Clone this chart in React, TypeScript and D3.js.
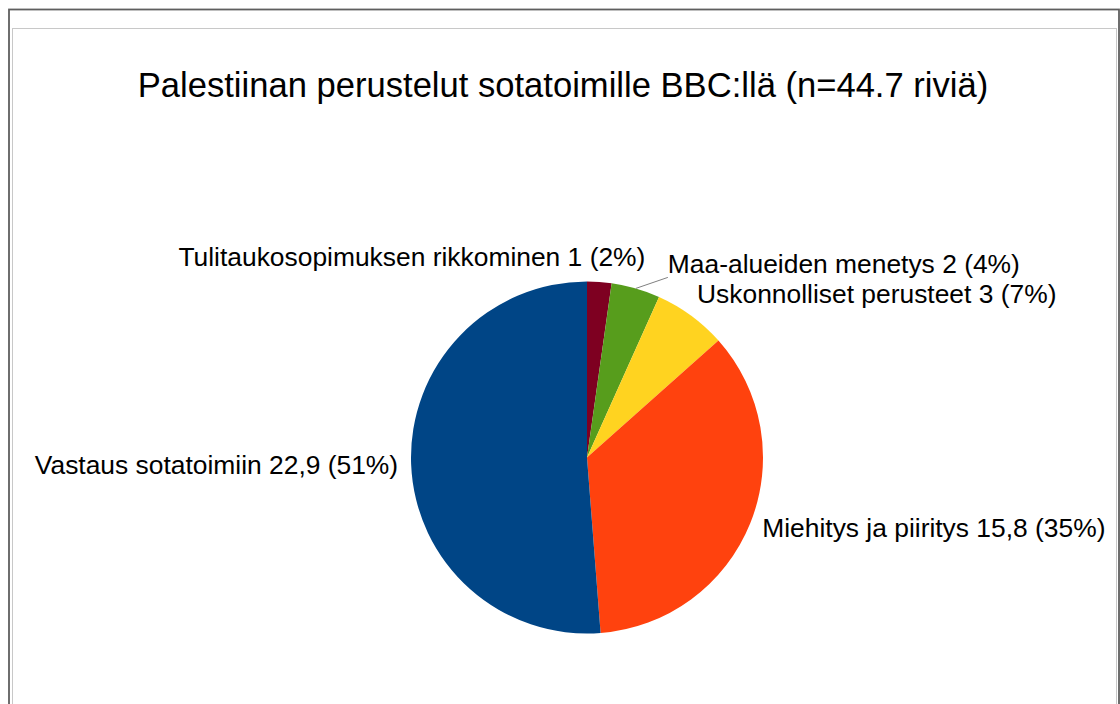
import React, { useEffect, useRef } from "react";
import * as d3 from "d3";

// Tiedot
const categories = [
  "Tulitaukosopimuksen rikkominen",
  "Maa-alueiden menetys",
  "Uskonnolliset perusteet",
  "Miehitys ja piiritys",
  "Vastaus sotatoimiin",
];
const values = [1, 2, 3, 15.8, 22.9];
const valueLabels = ["1", "2", "3", "15,8", "22,9"];
const percentLabels = ["2%", "4%", "7%", "35%", "51%"];
const colors = ["#7e0021", "#579d1c", "#ffd320", "#ff420e", "#004586"];

const title = "Palestiinan perustelut sotatoimille BBC:llä (n=44.7 riviä)";

// Nimiöiden siirrot kaaren reunasta (LibreOffice siirsi osan nimiöistä)
const labelNudges = [
  { dx: 46, dy: -16, anchor: "end", leader: false },
  { dx: 32, dy: -15, anchor: "start", leader: true },
  { dx: 6, dy: -13, anchor: "start", leader: false },
  { dx: 12, dy: 14, anchor: "start", leader: false },
  { dx: -13, dy: 10, anchor: "end", leader: false },
];

const W = 1120;
const H = 704;

const App = () => {
  const ref = useRef<SVGSVGElement>(null);

  useEffect(() => {
    const svg = d3.select(ref.current);
    svg.selectAll("*").remove();

    svg.append("rect").attr("width", W).attr("height", H).attr("fill", "#fff");

    // Kehykset
    svg.append("rect")
      .attr("x", 9).attr("y", 9.5)
      .attr("width", 1110).attr("height", 720)
      .attr("fill", "none").attr("stroke", "#5f5f5f").attr("stroke-width", 1.8);
    svg.append("rect")
      .attr("x", 12.5).attr("y", 28.5)
      .attr("width", 1104).attr("height", 700)
      .attr("fill", "none").attr("stroke", "#c8c8c8").attr("stroke-width", 1);

    svg.append("text")
      .attr("x", 563).attr("y", 96.5)
      .attr("text-anchor", "middle")
      .attr("font-family", "Liberation Sans, Arial, sans-serif")
      .attr("font-size", 34.6)
      .attr("fill", "#000")
      .text(title);

    const cx = 587, cy = 457.5, R = 176;
    const data = values.map((v, i) => ({ v, i }));
    const pie = d3.pie<{ v: number; i: number }>().sort(null).value(d => d.v);
    const arcs = pie(data);
    const arc = d3.arc<d3.PieArcDatum<{ v: number; i: number }>>().innerRadius(0).outerRadius(R);

    const g = svg.append("g").attr("transform", `translate(${cx},${cy})`);
    g.selectAll("path")
      .data(arcs)
      .enter()
      .append("path")
      .attr("d", arc)
      .attr("fill", d => colors[d.data.i]);

    // Nimiöt
    arcs.forEach((a, i) => {
      const mid = (a.startAngle + a.endAngle) / 2;
      const px = cx + R * Math.sin(mid);
      const py = cy - R * Math.cos(mid);
      const n = labelNudges[i];
      const tx = px + n.dx;
      const ty = py + n.dy;
      if (n.leader) {
        svg.append("line")
          .attr("x1", px).attr("y1", py)
          .attr("x2", tx).attr("y2", ty + 4)
          .attr("stroke", "#808080").attr("stroke-width", 1);
      }
      svg.append("text")
        .attr("x", tx).attr("y", ty)
        .attr("text-anchor", n.anchor)
        .attr("font-family", "Liberation Sans, Arial, sans-serif")
        .attr("font-size", 26.4)
        .attr("fill", "#000")
        .text(`${categories[i]} ${valueLabels[i]} (${percentLabels[i]})`);
    });
  }, []);

  return (
    <svg
      ref={ref}
      width={W}
      height={H}
      style={{ position: "absolute", left: 0, top: 0, display: "block" }}
    ></svg>
  );
};

export default App;
